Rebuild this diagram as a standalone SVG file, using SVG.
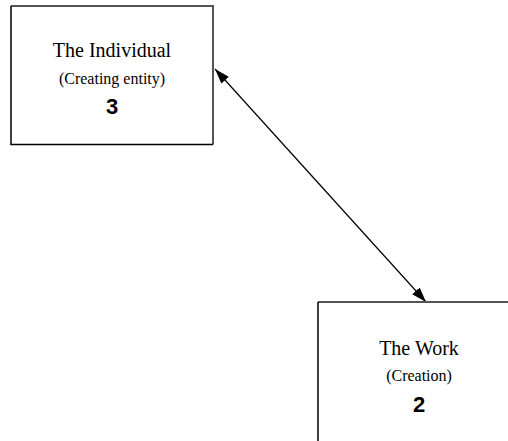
<svg xmlns="http://www.w3.org/2000/svg" width="508" height="441" viewBox="0 0 508 441">
  <style>
    .edge-light { stroke: #555555; stroke-width: 2; fill: none; }
    .edge-dark { stroke: #000000; stroke-width: 1.5; fill: none; }
    .title { font-family: "Liberation Serif", "Times New Roman", serif; font-size: 20px; fill: #000; text-anchor: middle; }
    .sub { font-family: "Liberation Serif", "Times New Roman", serif; font-size: 16px; fill: #000; text-anchor: middle; }
    .num { font-family: "Liberation Sans", Arial, sans-serif; font-size: 22px; font-weight: bold; fill: #000; text-anchor: middle; }
    .link { stroke: #000; stroke-width: 1.2; fill: none; }
  </style>
  <defs>
    <marker id="arrowEnd" markerUnits="userSpaceOnUse" markerWidth="16" markerHeight="12" refX="15" refY="5" orient="auto">
      <path d="M0,0 L15,5 L0,10 Z" fill="#000"/>
    </marker>
    <marker id="arrowStart" markerUnits="userSpaceOnUse" markerWidth="16" markerHeight="12" refX="0" refY="5" orient="auto">
      <path d="M15,0 L0,5 L15,10 Z" fill="#000"/>
    </marker>
  </defs>
  <rect width="508" height="441" fill="#ffffff"/>

  <g id="connectors">
    <line class="link" x1="215" y1="69" x2="426" y2="302" marker-start="url(#arrowStart)" marker-end="url(#arrowEnd)"/>
  </g>

  <g id="node-individual">
    <rect x="11" y="6" width="202" height="138.5" fill="#ffffff" stroke="none"/>
    <polyline class="edge-light" points="11,6 213,6 213,144.5"/>
    <polyline class="edge-dark" points="11,6 11,144.5 213,144.5"/>
    <text class="title" x="112" y="57">The Individual</text>
    <text class="sub" x="112" y="83.5">(Creating entity)</text>
    <text class="num" x="112" y="114">3</text>
  </g>

  <g id="node-work">
    <rect x="318" y="302" width="202" height="140" fill="#ffffff" stroke="none"/>
    <polyline class="edge-light" points="318,302 520,302 520,442"/>
    <polyline class="edge-dark" points="318,302 318,442 520,442"/>
    <text class="title" x="419" y="355">The Work</text>
    <text class="sub" x="419" y="381">(Creation)</text>
    <text class="num" x="419" y="411.7">2</text>
  </g>
</svg>
